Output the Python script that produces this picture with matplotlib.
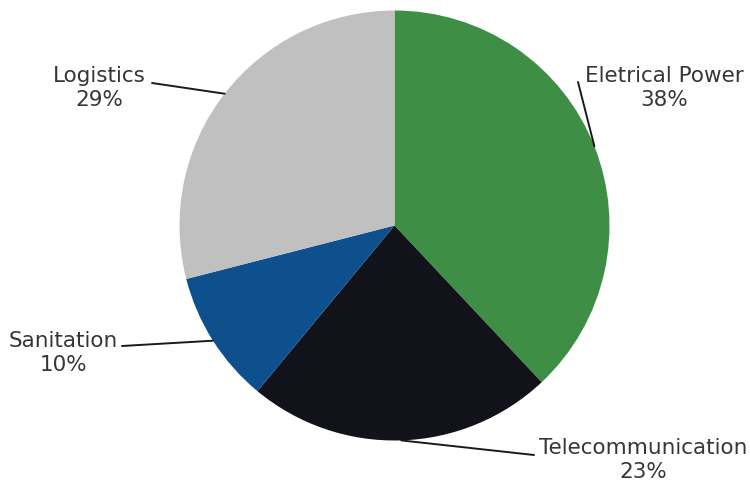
import numpy as np
import matplotlib
matplotlib.use("Agg")
import matplotlib.pyplot as plt

# Share of infrastructure spending by sector
sectors = ["Eletrical Power", "Telecommunication", "Sanitation", "Logistics"]
shares = [38, 23, 10, 29]
colors = ["#3e8e45", "#12121b", "#0e4f8e", "#c0c0c0"]

# Label placement (canvas units, y measured upward) and leader-line anchor next to each label
label_pos = {
    "Eletrical Power": (664, 394),
    "Telecommunication": (643, 22),
    "Sanitation": (63, 129),
    "Logistics": (99, 394),
}
line_anchor = {
    "Eletrical Power": (578, 400),
    "Telecommunication": (534, 27),
    "Sanitation": (122, 136),
    "Logistics": (152, 399),
}

W, H = 750, 482
fig = plt.figure(figsize=(W / 100, H / 100), dpi=100)
ax = fig.add_axes([0, 0, 1, 1])

center = (394.5, 256.5)
radius = 215
wedges, _ = ax.pie(shares, colors=colors, startangle=90, counterclock=False,
                   center=center, radius=radius, frame=True,
                   wedgeprops=dict(linewidth=0))
ax.set_xlim(0, W)
ax.set_ylim(0, H)
ax.set_aspect("equal")
ax.axis("off")

for w, name, val in zip(wedges, sectors, shares):
    mid = np.deg2rad((w.theta1 + w.theta2) / 2)
    ex = center[0] + radius * np.cos(mid)
    ey = center[1] + radius * np.sin(mid)
    ax_, ay_ = line_anchor[name]
    ax.plot([ex, ax_], [ey, ay_], color="#1a1a1a", lw=1.4, solid_capstyle="round")
    tx, ty = label_pos[name]
    ax.text(tx, ty, f"{name}\n{val}%", ha="center", va="center",
            fontsize=15.5, family="DejaVu Sans", color="#363636",
            linespacing=1.27)

fig.savefig("out.png", dpi=100)
